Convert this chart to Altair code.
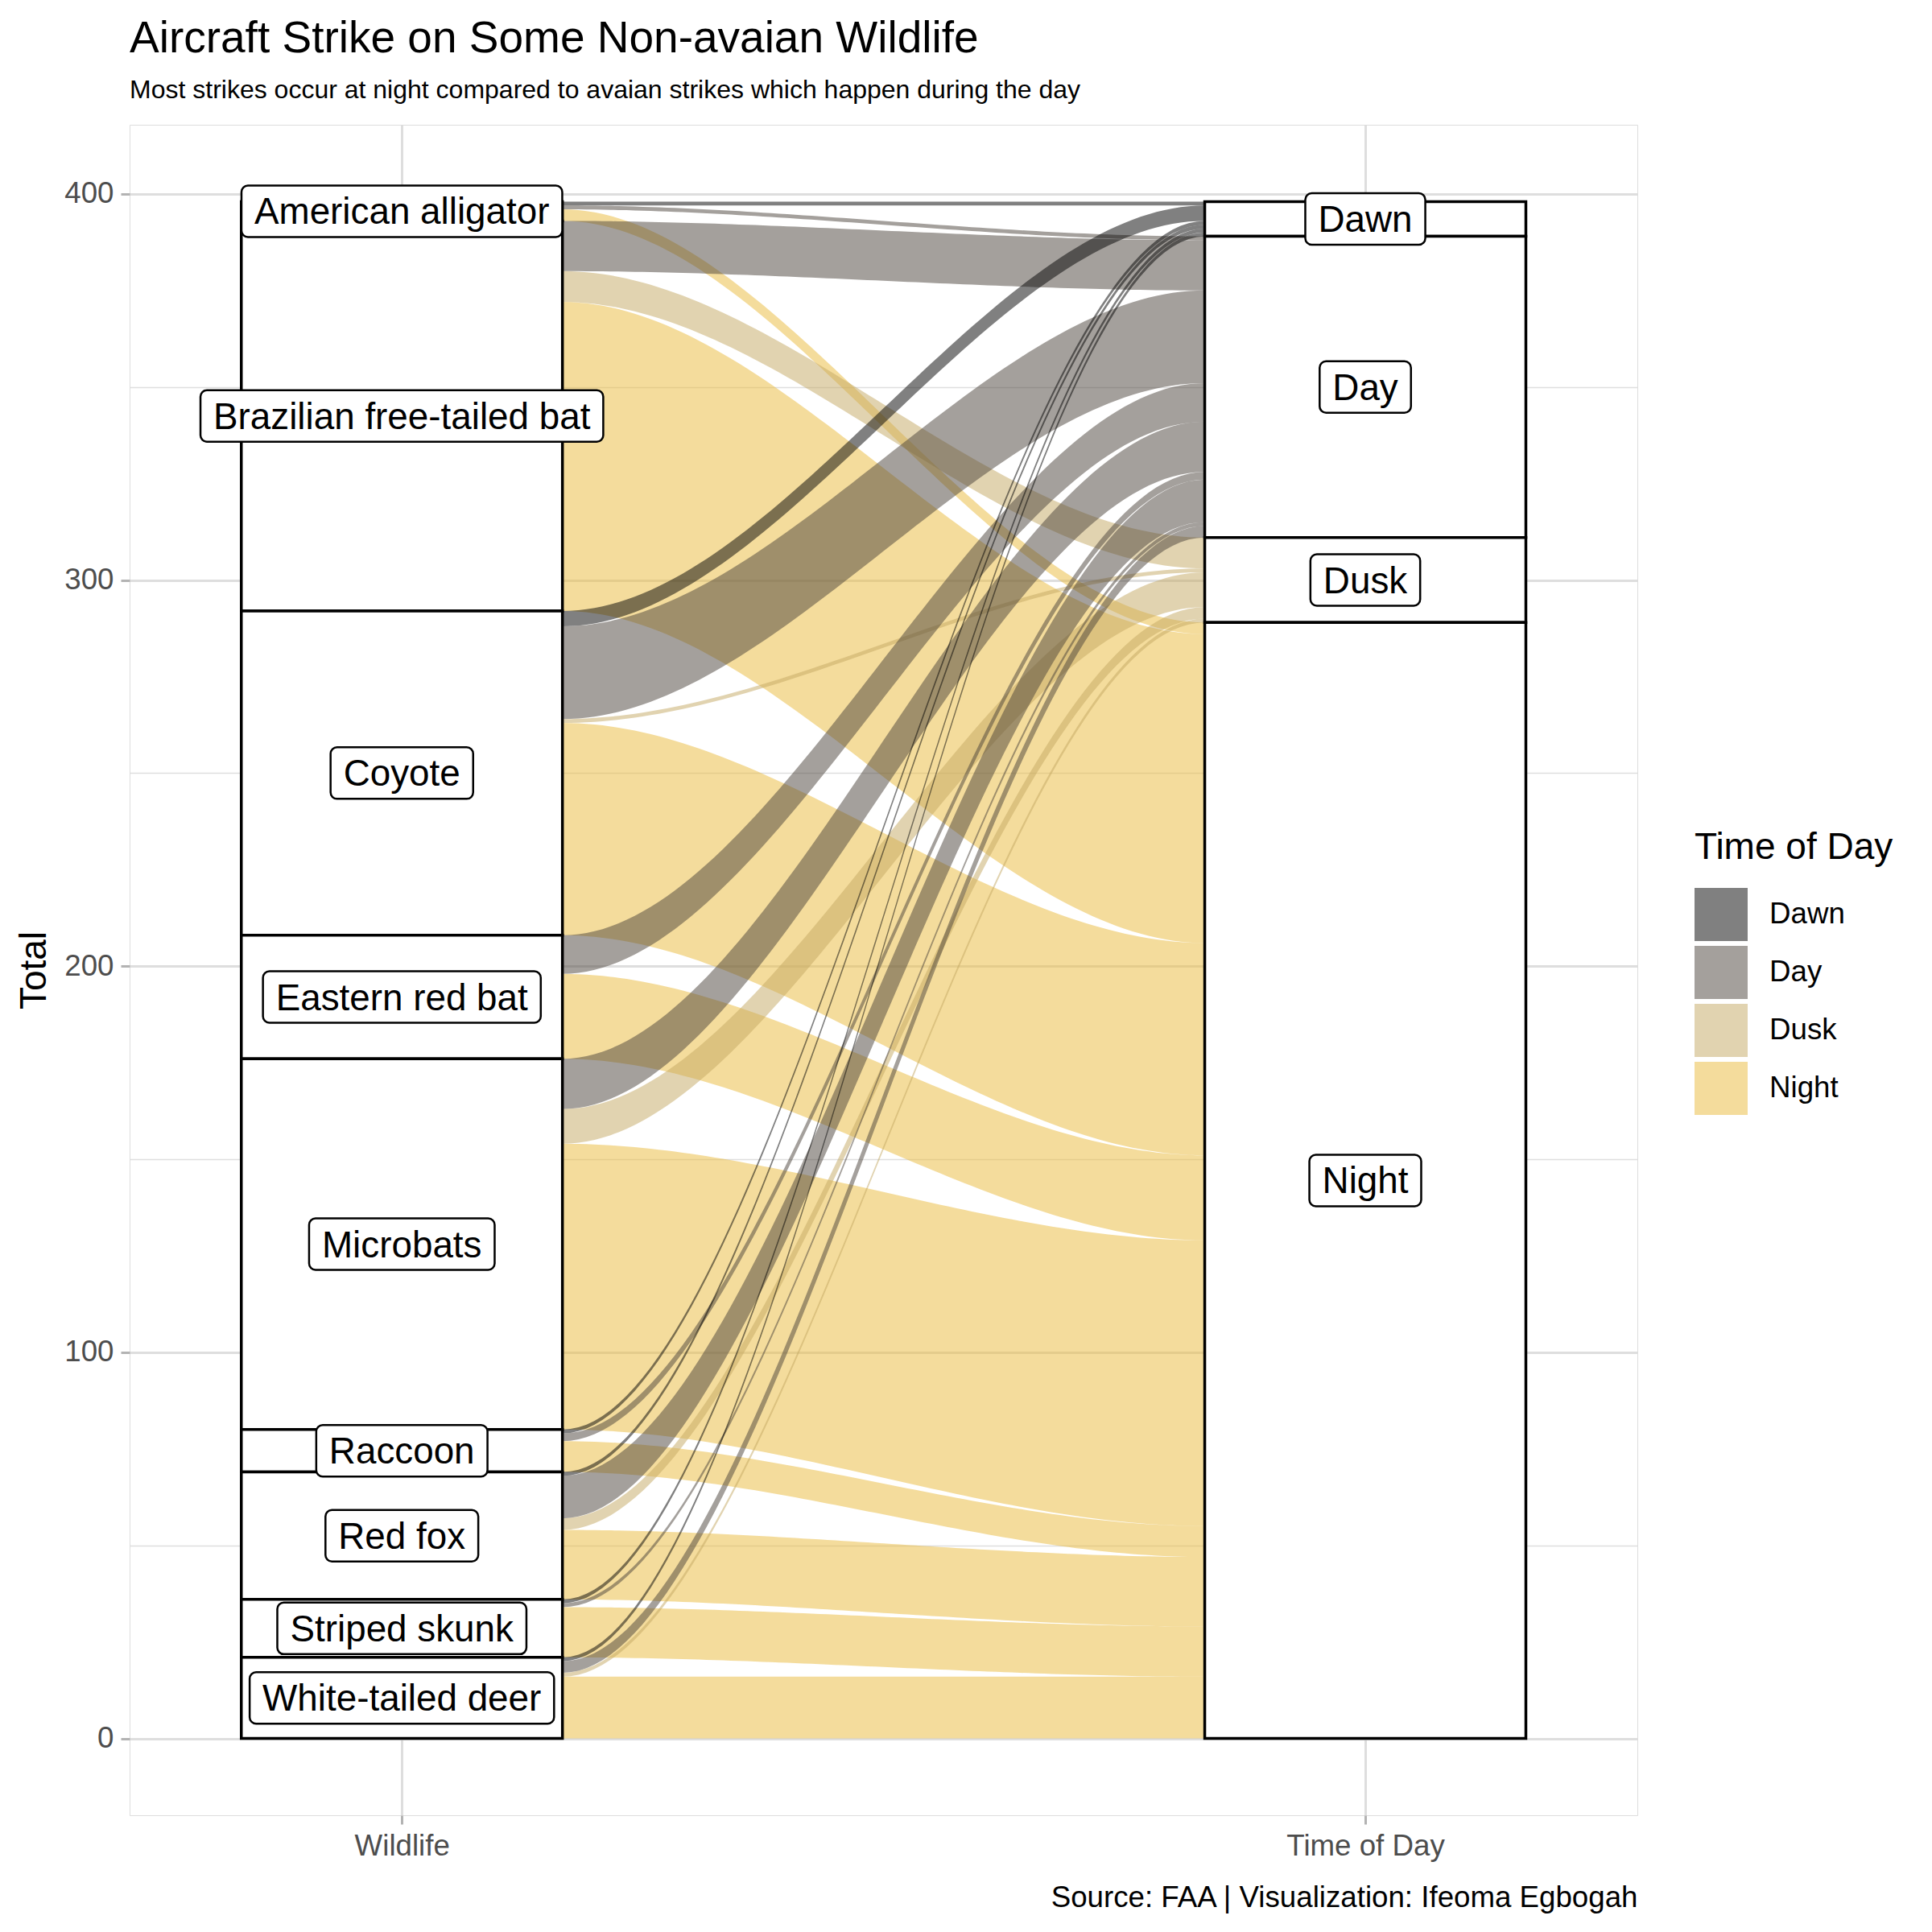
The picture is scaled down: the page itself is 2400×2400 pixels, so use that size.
import altair as alt
import pandas as pd
import numpy as np

# ---------------- data ----------------
wildlife = ["American alligator", "Brazilian free-tailed bat", "Coyote",
            "Eastern red bat", "Microbats", "Raccoon", "Red fox",
            "Striped skunk", "White-tailed deer"]
times = ["Dawn", "Day", "Dusk", "Night"]
dawn = [1, 0, 4, 0, 0, 1, 1, 1, 1]
day = [1, 13, 24, 10, 13, 2, 11, 1, 3]
dusk = [0, 8, 1, 0, 9, 0, 3, 0, 1]
night = [3, 80, 55, 22, 74, 8, 18, 13, 16]
axis_labels = ["Wildlife", "Time of Day"]
time_colors = ["#010101", "#494139", "#c3a761", "#e9b939"]

TITLE = "Aircraft Strike on Some Non-avaian Wildlife"
SUBTITLE = "Most strikes occur at night compared to avaian strikes which happen during the day"
CAPTION = "Source: FAA | Visualization: Ifeoma Egbogah"
FONT = "Liberation Sans"

# ---------------- layout ----------------
W, H = 1873, 2100
counts = np.array([dawn, day, dusk, night]).T  # (wildlife, time)
total = int(counts.sum())
pad_y = 0.05 * total
XDOM = [0.7174, 2.2824]
YDOM = [-pad_y, total + pad_y]
XS = W / (XDOM[1] - XDOM[0])
YS = H / (YDOM[1] - YDOM[0])
AX1, AX2 = 1.0, 2.0
HALF = 1 / 6

wild_tot = counts.sum(axis=1)
time_tot = counts.sum(axis=0)
wild_top = total - np.concatenate([[0], np.cumsum(wild_tot)[:-1]])
time_top = total - np.concatenate([[0], np.cumsum(time_tot)[:-1]])

# flows (ggalluvial-like), lodes ordered by the other axis
rows = []
for i in range(len(wildlife)):
    for j in range(len(times)):
        n = int(counts[i, j])
        if n == 0:
            continue
        yl = float(wild_top[i] - counts[i, :j].sum())
        yr = float(time_top[j] - counts[:i, j].sum())
        for k, u in enumerate(np.linspace(0, 1, 81)):
            s = u * u * (3 - 2 * u)
            yt = yl + (yr - yl) * s
            rows.append(dict(fid=f"f{i:02d}{j}", time=times[j],
                             x=float(AX1 + HALF + u * (AX2 - AX1 - 2 * HALF)),
                             yt=float(yt), yb=float(yt - n)))
flows = pd.DataFrame(rows)

# strata
srows = []
for i, w in enumerate(wildlife):
    srows.append(dict(label=w, x0=AX1 - HALF, x1=AX1 + HALF,
                      top=float(wild_top[i]), bot=float(wild_top[i] - wild_tot[i]), xc=AX1))
for j, t in enumerate(times):
    srows.append(dict(label=t, x0=AX2 - HALF, x1=AX2 + HALF,
                      top=float(time_top[j]), bot=float(time_top[j] - time_tot[j]), xc=AX2))
strata = pd.DataFrame(srows)
strata["yc"] = (strata["top"] + strata["bot"]) / 2

# label box sizes from Arial/Liberation Sans advance widths
WID = {' ': 278, '-': 333, 'A': 667, 'B': 667, 'C': 722, 'D': 722, 'E': 667,
       'M': 833, 'N': 722, 'R': 722, 'S': 667, 'W': 944, 'a': 556, 'b': 556,
       'c': 500, 'd': 556, 'e': 556, 'f': 278, 'g': 556, 'h': 556, 'i': 222,
       'k': 500, 'l': 222, 'm': 833, 'n': 556, 'o': 556, 'p': 556, 'r': 333,
       's': 500, 't': 278, 'u': 556, 'v': 500, 'w': 722, 'x': 500, 'y': 500,
       'z': 500}
LFS = 45.8
PADX = 16
HALFH = 32
def text_px(s):
    return sum(WID.get(c, 556) for c in s) / 1000 * LFS
strata["bx0"] = strata["xc"] - (strata["label"].map(text_px) / 2 + PADX) / XS
strata["bx1"] = strata["xc"] + (strata["label"].map(text_px) / 2 + PADX) / XS
strata["by0"] = strata["yc"] - HALFH / YS
strata["by1"] = strata["yc"] + HALFH / YS

# ---------------- chart ----------------
xscale = alt.Scale(domain=XDOM, nice=False, zero=False)
yscale = alt.Scale(domain=YDOM, nice=False, zero=False)
major = "datum.value % 100 === 0"
xaxis = alt.Axis(values=[1, 2], labelExpr="datum.value == 1 ? 'Wildlife' : 'Time of Day'",
                 grid=True, gridColor="#dedede", gridWidth=3, domain=False,
                 tickColor="#b3b3b3", tickWidth=3, tickSize=11, labelPadding=9,
                 labelColor="#4d4d4d", labelFontSize=36.7, labelFont=FONT,
                 labelLimit=1000,
                 title=CAPTION, titleAnchor="end", titleFontSize=36.7,
                 titleFont=FONT, titleFontWeight="normal", titleColor="black",
                 titlePadding=28, titleLimit=2000)
yaxis = alt.Axis(values=list(range(0, 401, 50)),
                 labelExpr=f"{major} ? datum.label : ''",
                 grid=True, gridColor="#dedede",
                 gridWidth={"condition": {"test": major, "value": 3}, "value": 1.5},
                 tickSize={"condition": {"test": major, "value": 11}, "value": 0},
                 domain=False, tickColor="#b3b3b3", tickWidth=3, labelPadding=9,
                 labelColor="#4d4d4d", labelFontSize=36.7, labelFont=FONT,
                 title="Total", titleFontSize=46, titleFont=FONT,
                 titleFontWeight="normal", titleColor="black", titlePadding=13)

flow_layer = alt.Chart(flows).mark_area(opacity=0.5).encode(
    x=alt.X("x:Q", scale=xscale, axis=xaxis),
    y=alt.Y("yt:Q", scale=yscale, axis=yaxis, stack=None),
    y2=alt.Y2("yb:Q"),
    color=alt.Color("time:N", scale=alt.Scale(domain=times, range=time_colors),
                    legend=alt.Legend(title="Time of Day", orient="none",
                                      legendX=1944, legendY=876,
                                      symbolType="square", symbolSize=4356,
                                      symbolStrokeWidth=0, symbolOpacity=0.5,
                                      rowPadding=6, titlePadding=26,
                                      labelOffset=27, labelFontSize=36.7,
                                      labelFont=FONT, labelColor="black",
                                      titleFontSize=46, titleFont=FONT,
                                      titleFontWeight="normal", titleColor="black",
                                      titleLimit=1000, padding=0)),
    detail="fid:N",
)

strata_layer = alt.Chart(strata).mark_rect(fill="white", stroke="black",
                                           strokeWidth=3.5).encode(
    x=alt.X("x0:Q", scale=xscale, axis=xaxis), x2="x1:Q",
    y=alt.Y("top:Q", scale=yscale, axis=yaxis), y2="bot:Q",
)

box_layer = alt.Chart(strata).mark_rect(fill="white", stroke="black",
                                        strokeWidth=2.5, cornerRadius=8).encode(
    x=alt.X("bx0:Q", scale=xscale, axis=xaxis), x2="bx1:Q",
    y=alt.Y("by0:Q", scale=yscale, axis=yaxis), y2="by1:Q",
)

text_layer = alt.Chart(strata).mark_text(fontSize=LFS, font=FONT, color="black",
                                         baseline="middle", align="center",
                                         dy=2).encode(
    x=alt.X("xc:Q", scale=xscale, axis=xaxis),
    y=alt.Y("yc:Q", scale=yscale, axis=yaxis),
    text="label:N",
)

chart = alt.layer(flow_layer, strata_layer, box_layer, text_layer).properties(
    width=W, height=H,
    title=alt.TitleParams(text=TITLE, subtitle=SUBTITLE, anchor="start",
                          frame="group", fontSize=55, subtitleFontSize=32,
                          font=FONT, subtitleFont=FONT, fontWeight="normal",
                          color="black", subtitleColor="black",
                          offset=26, subtitlePadding=20),
    autosize=alt.AutoSizeParams(type="none"),
    padding={"left": 153, "top": 147, "right": 358, "bottom": 137},
).configure_view(stroke="#b3b3b3", strokeWidth=2).configure(background="white")

chart.save("out.html", embed_options={"renderer": "svg", "actions": False})
